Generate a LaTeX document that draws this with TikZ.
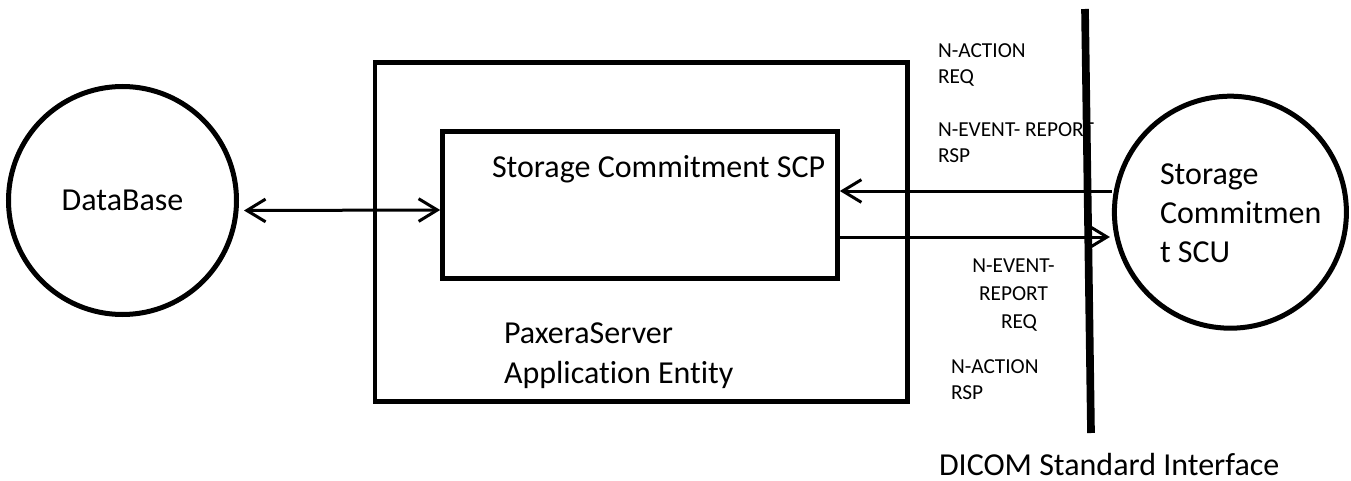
\documentclass[tikz,border=0pt]{standalone}
\usepackage{fontspec}
\setmainfont[Ligatures={NoCommon}]{Carlito}
\usetikzlibrary{arrows.meta,calc}

\begin{document}
\begin{tikzpicture}[x=0.75pt,y=-0.75pt,
  big/.style={font=\fontsize{24pt}{29pt}\selectfont, inner sep=0pt, outer sep=0pt, anchor=base west},
  small/.style={font=\fontsize{16pt}{19.5pt}\selectfont, inner sep=0pt, outer sep=0pt, anchor=base west},
  entity/.style={draw, circle, line width=3.75pt, inner sep=0pt},
  box/.style={draw, rectangle, line width=3.5pt, inner sep=0pt},
  conn/.style={line width=2.25pt},
  barb/.tip={Straight Barb[length=14pt,width=17pt]},
  wall/.style={line width=5.75pt}
]
\useasboundingbox (0,0) rectangle (1351,481);

% entities
\node[entity, minimum size=171pt, font=\fontsize{24pt}{29pt}\selectfont] (db) at (122.5,200.5) {DataBase};
\node[entity, minimum size=174pt] (scu) at (1230.4,212.2) {};
\node[big] (scu1) at (1160,185) {Storage};
\node[big] (scu2) at (1160,223) {Commitmen};
\node[big] (scu3) at (1160,262) {t SCU};

% application entity and its SCP
\node[box, minimum width=399.4pt, minimum height=254.4pt] (ae) at (641.25,232.1) {};
\node[box, minimum width=296.25pt, minimum height=109.9pt] (scp) at (640,205) {};
\node[big] (scplabel) at (492,177) {Storage Commitment SCP};
\node[big] (ae1) at (504,343) {PaxeraServer};
\node[big] (ae2) at (504,383) {Application Entity};

% DICOM interface boundary
\coordinate (ifTop) at (1085,9);
\coordinate (ifBot) at (1091,433);
\draw[wall] (ifTop) -- (ifBot);
\node[big] (iflabel) at (939,475) {DICOM Standard Interface};

% connectors
\coordinate (yUp) at (0,191);
\coordinate (yDown) at (0,237);
\draw[conn, barb-barb] ($(db.east)+(5,10)$) -- ($(scp.west)+(0,5)$);
\draw[conn, -barb] (scu.west |- yUp) -- (scp.east |- yUp);
\draw[conn, -barb] (scp.east |- yDown) -- ($(scu.west |- yDown)+(-2,0)$);

% message labels
\node[small] (m1a) at (938,58) {N-ACTION};
\node[small] (m1b) at (938,84) {REQ};
\node[small] (m2a) at (938,137) {N-EVENT- REPORT};
\node[small] (m2b) at (938,162) {RSP};
\node[small, anchor=base] (m3a) at (1013.5,272) {N-EVENT-};
\node[small, anchor=base] (m3b) at (1013.5,300) {REPORT};
\node[small, anchor=base] (m3c) at (1019,328) {REQ};
\node[small] (m4a) at (951,373) {N-ACTION};
\node[small] (m4b) at (951,399) {RSP};
\end{tikzpicture}
\end{document}
